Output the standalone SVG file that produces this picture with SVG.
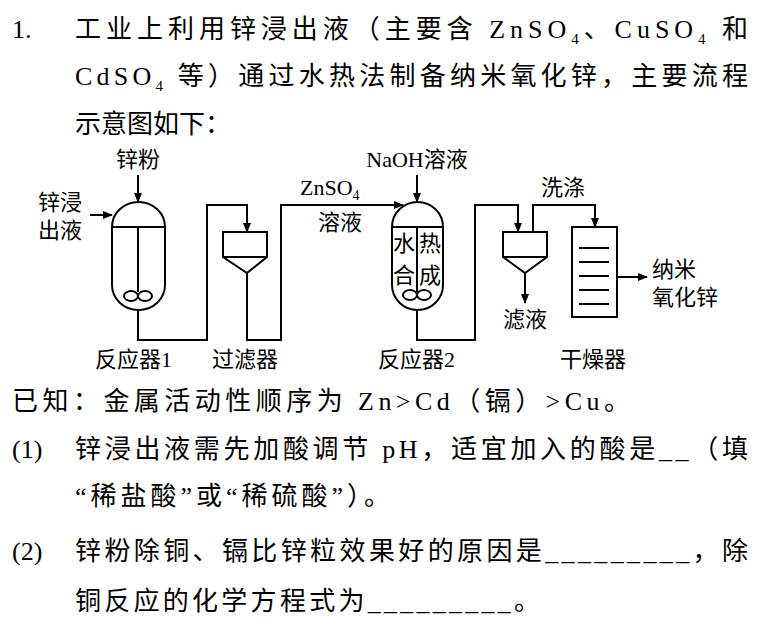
<svg xmlns="http://www.w3.org/2000/svg" width="758" height="626" viewBox="0 0 758 626">
<style>
.t{font-family:"Liberation Serif","Noto Sans CJK SC",serif;font-size:26px;fill:#000}
.l{font-family:"Liberation Serif","Noto Sans CJK SC",serif;font-size:22px;fill:#000}
.s{font-size:15px}
.p{fill:none;stroke:#000;stroke-width:2}
</style>
<defs><marker id="a" markerWidth="10" markerHeight="8" refX="9" refY="4" orient="auto" markerUnits="userSpaceOnUse"><path d="M0,0L10,4L0,8z" fill="#000"/></marker></defs>
<rect width="758" height="626" fill="#fff"/>
<text class="t" x="12" y="38">1.</text>
<text class="t" x="75" y="38" textLength="673" lengthAdjust="spacing">工业上利用锌浸出液（主要含 ZnSO<tspan class="s" dy="6">4</tspan><tspan dy="-6">、CuSO</tspan><tspan class="s" dy="6">4</tspan><tspan dy="-6"> 和</tspan></text>
<text class="t" x="75" y="85" textLength="673" lengthAdjust="spacing">CdSO<tspan class="s" dy="6">4</tspan><tspan dy="-6"> 等）通过水热法制备纳米氧化锌，主要流程</tspan></text>
<text class="t" x="75" y="133">示意图如下：</text>
<g id="reactor1"><path class="p" d="M112,227A26.5,25 0 0 1 165,227V285A26.5,25 0 0 1 112,285Z M112,227H165 M138,227V292"/><ellipse class="p" cx="131" cy="296" rx="7" ry="5"/><ellipse class="p" cx="145" cy="296" rx="7" ry="5"/>
<text class="l" x="138" y="167" text-anchor="middle">锌粉</text><text class="l" x="38" y="210">锌浸</text><text class="l" x="38" y="238">出液</text><text class="l" x="95" y="367">反应器1</text></g>
<g id="filter1"><path class="p" d="M223,232H267V257L247,273L223,257Z M223,257H267"/><text class="l" x="212" y="367">过滤器</text></g>
<g id="reactor2"><path class="p" d="M392,227A25.5,25 0 0 1 443,227V285A25.5,25 0 0 1 392,285Z M392,227H443 M417,227V292"/><ellipse class="p" cx="410" cy="295" rx="7" ry="5"/><ellipse class="p" cx="424" cy="295" rx="7" ry="5"/>
<text class="l" x="393" y="251">水</text><text class="l" x="419" y="251">热</text><text class="l" x="393" y="283">合</text><text class="l" x="419" y="283">成</text>
<text class="l" x="417" y="167" text-anchor="middle">NaOH溶液</text><text class="l" x="378" y="367">反应器2</text></g>
<g id="filter2"><path class="p" d="M503,232H547V257L525,273L503,257Z M503,257H547"/><text class="l" x="525" y="327" text-anchor="middle">滤液</text></g>
<g id="dryer"><rect class="p" x="572" y="227" width="45" height="90"/><path class="p" d="M579,248H609M579,262H609M579,276H609M579,290H609M579,304H609"/><text class="l" x="560" y="367">干燥器</text></g>
<g id="labels"><text class="l" x="300" y="195">ZnSO<tspan style="font-size:14px" dy="5">4</tspan></text><text class="l" x="340" y="230" text-anchor="middle">溶液</text><text class="l" x="563" y="195" text-anchor="middle">洗涤</text><text class="l" x="652" y="277">纳米</text><text class="l" x="652" y="305">氧化锌</text></g>
<g id="connectors">
<path class="p" d="M138,175V202" marker-end="url(#a)"/>
<path class="p" d="M90,215H112" marker-end="url(#a)"/>
<path class="p" d="M138,310V340H207V205H247V232" marker-end="url(#a)"/>
<path class="p" d="M247,273V340H281V205H403" marker-end="url(#a)"/>
<path class="p" d="M417,175V202" marker-end="url(#a)"/>
<path class="p" d="M417,310V340H475V205H518V232" marker-end="url(#a)"/>
<path class="p" d="M525,273V303" marker-end="url(#a)"/>
<path class="p" d="M533,232V205H595V227" marker-end="url(#a)"/>
<path class="p" d="M617,277H647" marker-end="url(#a)"/>
</g>
<text class="t" x="12" y="410" textLength="618" lengthAdjust="spacing">已知：金属活动性顺序为 Zn&gt;Cd（镉）&gt;Cu。</text>
<text class="t" x="12" y="458">(1)</text>
<text class="t" x="75" y="458" textLength="673" lengthAdjust="spacing">锌浸出液需先加酸调节 pH，适宜加入的酸是__（填</text>
<text class="t" x="75" y="505" textLength="315" lengthAdjust="spacing">“稀盐酸”或“稀硫酸”）。</text>
<text class="t" x="12" y="560">(2)</text>
<text class="t" x="75" y="560" textLength="673" lengthAdjust="spacing">锌粉除铜、镉比锌粒效果好的原因是_________，除</text>
<text class="t" x="75" y="610" textLength="465" lengthAdjust="spacing">铜反应的化学方程式为_________。</text>
</svg>
